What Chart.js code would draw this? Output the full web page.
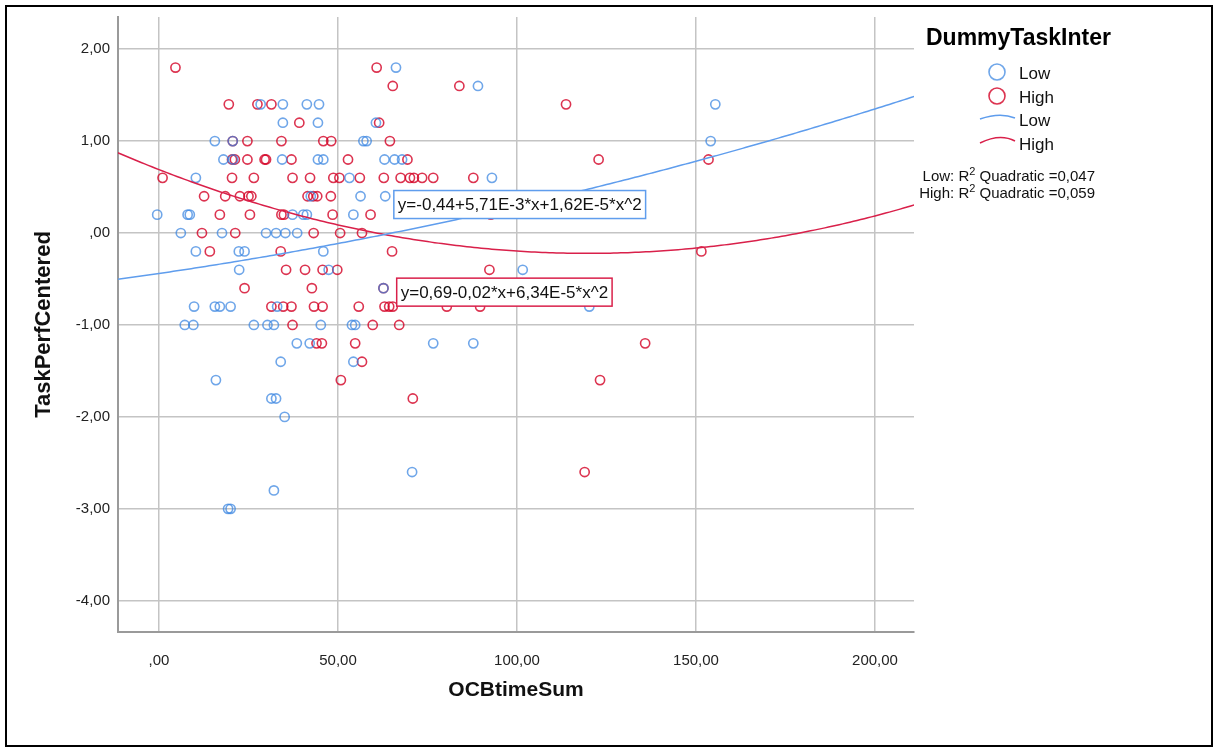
<!DOCTYPE html>
<html>
<head>
<meta charset="utf-8">
<script src="https://cdn.jsdelivr.net/npm/chart.js@4.4.1/dist/chart.umd.min.js"></script>
<style>
  html, body { margin: 0; padding: 0; background: #fff; }
  #wrap { width: 1218px; height: 753px; }
</style>
</head>
<body>
<div id="wrap"><canvas id="chart" width="1218" height="753"></canvas></div>
<script>
// OCBtimeSum (x) vs TaskPerfCentered (y)
const lowPoints = [
  [66.2, 1.8],
  [89.1, 1.6],
  [28.4, 1.4], [34.6, 1.4], [41.3, 1.4], [44.7, 1.4], [155.4, 1.4],
  [34.6, 1.2], [44.4, 1.2], [60.6, 1.2],
  [15.6, 1.0], [20.6, 1.0], [57.1, 1.0], [58.0, 1.0], [154.1, 1.0],
  [18.0, 0.8], [20.7, 0.8], [34.4, 0.8], [44.4, 0.8], [45.9, 0.8], [63.0, 0.8], [65.8, 0.8], [67.9, 0.8],
  [10.3, 0.6], [53.2, 0.6], [93.0, 0.6],
  [42.4, 0.4], [56.3, 0.4], [63.2, 0.4],
  [-0.5, 0.2], [8.0, 0.2], [8.6, 0.2], [37.3, 0.2], [40.3, 0.2], [41.3, 0.2], [54.3, 0.2],
  [6.1, 0], [17.6, 0], [29.9, 0], [32.7, 0], [35.3, 0], [38.6, 0],
  [10.3, -0.2], [22.3, -0.2], [23.9, -0.2], [45.9, -0.2],
  [22.4, -0.4], [47.4, -0.4], [101.6, -0.4],
  [62.7, -0.6],
  [9.8, -0.8], [15.6, -0.8], [17.0, -0.8], [20.0, -0.8], [33.0, -0.8], [120.2, -0.8],
  [7.2, -1.0], [9.6, -1.0], [26.5, -1.0], [30.3, -1.0], [32.1, -1.0], [45.2, -1.0], [53.9, -1.0], [54.8, -1.0],
  [38.5, -1.2], [42.1, -1.2], [76.6, -1.2], [87.8, -1.2],
  [34.0, -1.4], [54.3, -1.4],
  [15.9, -1.6],
  [31.4, -1.8], [32.7, -1.8],
  [35.1, -2.0],
  [70.7, -2.6],
  [32.1, -2.8],
  [19.3, -3.0], [20.0, -3.0]
];

const highPoints = [
  [4.6, 1.8], [60.8, 1.8],
  [65.3, 1.6], [83.9, 1.6],
  [19.5, 1.4], [27.5, 1.4], [31.4, 1.4], [113.7, 1.4],
  [39.2, 1.2], [61.5, 1.2],
  [20.6, 1.0], [24.7, 1.0], [34.2, 1.0], [45.9, 1.0], [48.1, 1.0], [64.5, 1.0],
  [20.4, 0.8], [21.2, 0.8], [24.7, 0.8], [29.5, 0.8], [29.9, 0.8], [37.0, 0.8], [52.8, 0.8], [69.4, 0.8], [122.8, 0.8], [153.5, 0.8],
  [1.0, 0.6], [20.4, 0.6], [26.5, 0.6], [37.3, 0.6], [42.2, 0.6], [48.7, 0.6], [50.4, 0.6], [56.1, 0.6],
  [62.8, 0.6], [67.5, 0.6], [70.1, 0.6], [71.2, 0.6], [73.5, 0.6], [76.6, 0.6], [87.8, 0.6],
  [12.6, 0.4], [18.5, 0.4], [22.6, 0.4], [25.0, 0.4], [25.8, 0.4], [41.5, 0.4], [43.1, 0.4], [44.2, 0.4], [48.0, 0.4],
  [17.0, 0.2], [25.4, 0.2], [34.2, 0.2], [34.9, 0.2], [48.5, 0.2], [59.1, 0.2], [92.7, 0.2],
  [12.0, 0], [21.3, 0], [43.2, 0], [50.6, 0], [56.7, 0],
  [14.2, -0.2], [34.0, -0.2], [65.1, -0.2], [151.5, -0.2],
  [35.5, -0.4], [40.8, -0.4], [45.7, -0.4], [49.8, -0.4], [92.3, -0.4],
  [23.9, -0.6], [42.7, -0.6], [62.7, -0.6],
  [31.4, -0.8], [34.7, -0.8], [37.0, -0.8], [43.3, -0.8], [45.7, -0.8], [55.8, -0.8],
  [63.0, -0.8], [64.3, -0.8], [65.3, -0.8], [80.4, -0.8], [89.7, -0.8],
  [37.3, -1.0], [59.7, -1.0], [67.1, -1.0],
  [44.0, -1.2], [45.5, -1.2], [54.8, -1.2], [135.8, -1.2],
  [56.7, -1.4],
  [50.8, -1.6], [123.2, -1.6],
  [70.9, -1.8],
  [118.9, -2.6]
];

// quadratic fit coefficients [a, b, c] : y = a + b*x + c*x^2
// (High's b is printed rounded as -0,02 in the label; -0.0152 is what the drawn curve follows)
const lowFit = [-0.44, 5.71e-3, 1.62e-5];
const highFit = [0.69, -0.0152, 6.34e-5];
const lowEquation = 'y=-0,44+5,71E-3*x+1,62E-5*x^2';
const highEquation = 'y=0,69-0,02*x+6,34E-5*x^2';
const rSquared = ['Low: R', ' Quadratic =0,047', 'High: R', ' Quadratic =0,059'];

const xTicks = [0, 50, 100, 150, 200];
const yTicks = [-4, -3, -2, -1, 0, 1, 2];
const xRange = [-11.45, 210.9];
const yRange = [-4.34, 2.35];

const groups = ['Low', 'High'];
const legendTitle = 'DummyTaskInter';

const BLUE_PT = 'rgba(55,132,225,0.72)';
const RED_PT = 'rgba(211,0,36,0.8)';
const BLUE_LINE = '#5f9ded';
const RED_LINE = '#d9204a';
const FONT = "'Liberation Sans', Arial, sans-serif";

function fmt(v) {
  let s = Math.abs(v).toFixed(2).replace('.', ',');
  if (s.startsWith('0')) s = s.slice(1);
  return (v < 0 ? '-' : '') + s;
}

function curve(coef) {
  const pts = [];
  for (let x = Math.floor(xRange[0]); x <= Math.ceil(xRange[1]); x += 1) {
    pts.push({ x: x, y: coef[0] + coef[1] * x + coef[2] * x * x });
  }
  return pts;
}

function eqBox(ctx, chart, text, xVal, yVal, color) {
  const x0 = chart.scales.x.getPixelForValue(xVal);
  const yc = chart.scales.y.getPixelForValue(yVal);
  ctx.font = '17px ' + FONT;
  const w = ctx.measureText(text).width + 8;
  const h = 28;
  ctx.fillStyle = '#fff';
  ctx.fillRect(x0, yc - h / 2, w, h);
  ctx.strokeStyle = color;
  ctx.lineWidth = 1.5;
  ctx.strokeRect(x0, yc - h / 2, w, h);
  ctx.fillStyle = '#111';
  ctx.textBaseline = 'middle';
  ctx.textAlign = 'left';
  ctx.fillText(text, x0 + 4, yc + 1);
}

const decorations = {
  id: 'decorations',
  afterDraw(chart) {
    const ctx = chart.ctx;
    ctx.save();

    // outer frame
    ctx.strokeStyle = '#000';
    ctx.lineWidth = 2;
    ctx.strokeRect(6, 6, 1206, 740);

    // equation labels on the curves
    eqBox(ctx, chart, lowEquation, 65.6, 0.31, BLUE_LINE);
    eqBox(ctx, chart, highEquation, 66.4, -0.643, RED_LINE);

    // legend
    ctx.fillStyle = '#000';
    ctx.textBaseline = 'middle';
    ctx.textAlign = 'left';
    ctx.font = 'bold 23px ' + FONT;
    ctx.fillText(legendTitle, 926, 39);

    ctx.lineWidth = 1.6;
    ctx.strokeStyle = BLUE_PT;
    ctx.beginPath(); ctx.arc(997, 72, 8, 0, Math.PI * 2); ctx.stroke();
    ctx.strokeStyle = RED_PT;
    ctx.beginPath(); ctx.arc(997, 96, 8, 0, Math.PI * 2); ctx.stroke();

    ctx.lineWidth = 1.5;
    ctx.strokeStyle = BLUE_LINE;
    ctx.beginPath(); ctx.moveTo(980, 119); ctx.quadraticCurveTo(1000, 112, 1015, 118); ctx.stroke();
    ctx.strokeStyle = RED_LINE;
    ctx.beginPath(); ctx.moveTo(980, 143); ctx.quadraticCurveTo(1000, 133, 1015, 141); ctx.stroke();

    ctx.fillStyle = '#111';
    ctx.font = '17px ' + FONT;
    ctx.fillText(groups[0], 1019, 74);
    ctx.fillText(groups[1], 1019, 98);
    ctx.fillText(groups[0], 1019, 121);
    ctx.fillText(groups[1], 1019, 145);

    // R squared notes, right aligned
    const rows = [[rSquared[0], rSquared[1], 177], [rSquared[2], rSquared[3], 194]];
    rows.forEach(r => {
      ctx.font = '15px ' + FONT;
      const w1 = ctx.measureText(r[0]).width;
      const w3 = ctx.measureText(r[1]).width;
      ctx.font = '11px ' + FONT;
      const w2 = ctx.measureText('2').width;
      const right = 1095;
      const start = right - w1 - w2 - w3;
      ctx.font = '15px ' + FONT;
      ctx.fillText(r[0], start, r[2]);
      ctx.fillText(r[1], start + w1 + w2, r[2]);
      ctx.font = '11px ' + FONT;
      ctx.fillText('2', start + w1, r[2] - 5);
    });

    ctx.restore();
  }
};

const ctx = document.getElementById('chart').getContext('2d');
new Chart(ctx, {
  type: 'scatter',
  data: {
    datasets: [
      {
        label: 'Low fit', type: 'line', data: curve(lowFit),
        borderColor: BLUE_LINE, borderWidth: 1.5, pointRadius: 0, fill: false, tension: 0
      },
      {
        label: 'High fit', type: 'line', data: curve(highFit),
        borderColor: RED_LINE, borderWidth: 1.5, pointRadius: 0, fill: false, tension: 0
      },
      {
        label: 'Low', data: lowPoints.map(p => ({ x: p[0], y: p[1] })),
        pointStyle: 'circle', pointRadius: 4.6, pointBorderWidth: 1.6,
        borderColor: BLUE_PT, backgroundColor: 'rgba(0,0,0,0)'
      },
      {
        label: 'High', data: highPoints.map(p => ({ x: p[0], y: p[1] })),
        pointStyle: 'circle', pointRadius: 4.6, pointBorderWidth: 1.6,
        borderColor: RED_PT, backgroundColor: 'rgba(0,0,0,0)'
      }
    ]
  },
  options: {
    responsive: false,
    animation: false,
    layout: { padding: { left: 0, top: 12, right: 304, bottom: 0 } },
    plugins: {
      legend: { display: false },
      tooltip: { enabled: false }
    },
    scales: {
      x: {
        type: 'linear',
        min: xRange[0],
        max: xRange[1],
        afterBuildTicks: s => { s.ticks = xTicks.map(v => ({ value: v })); },
        afterFit: s => { s.height = 121; },
        grid: { color: '#c4c4c4', lineWidth: 1.5, drawTicks: false },
        border: { color: '#9a9a9a', width: 2 },
        ticks: {
          color: '#222', padding: 20, maxRotation: 0,
          font: { family: FONT, size: 15 },
          callback: v => fmt(v)
        },
        title: {
          display: true, text: 'OCBtimeSum', color: '#111',
          font: { family: FONT, size: 21, weight: 'bold' },
          padding: { top: 0, bottom: 50 }
        }
      },
      y: {
        type: 'linear',
        min: yRange[0],
        max: yRange[1],
        afterBuildTicks: s => { s.ticks = yTicks.map(v => ({ value: v })); },
        afterFit: s => { s.width = 118; },
        grid: { color: '#c4c4c4', lineWidth: 1.5, drawTicks: false },
        border: { color: '#9a9a9a', width: 2 },
        ticks: {
          color: '#222', padding: 8,
          font: { family: FONT, size: 15 },
          callback: v => fmt(v)
        },
        title: {
          display: true, text: 'TaskPerfCentered', color: '#111',
          font: { family: FONT, size: 22, weight: 'bold' },
          padding: { top: 31, bottom: 0 }
        }
      }
    }
  },
  plugins: [decorations]
});
</script>
</body>
</html>
